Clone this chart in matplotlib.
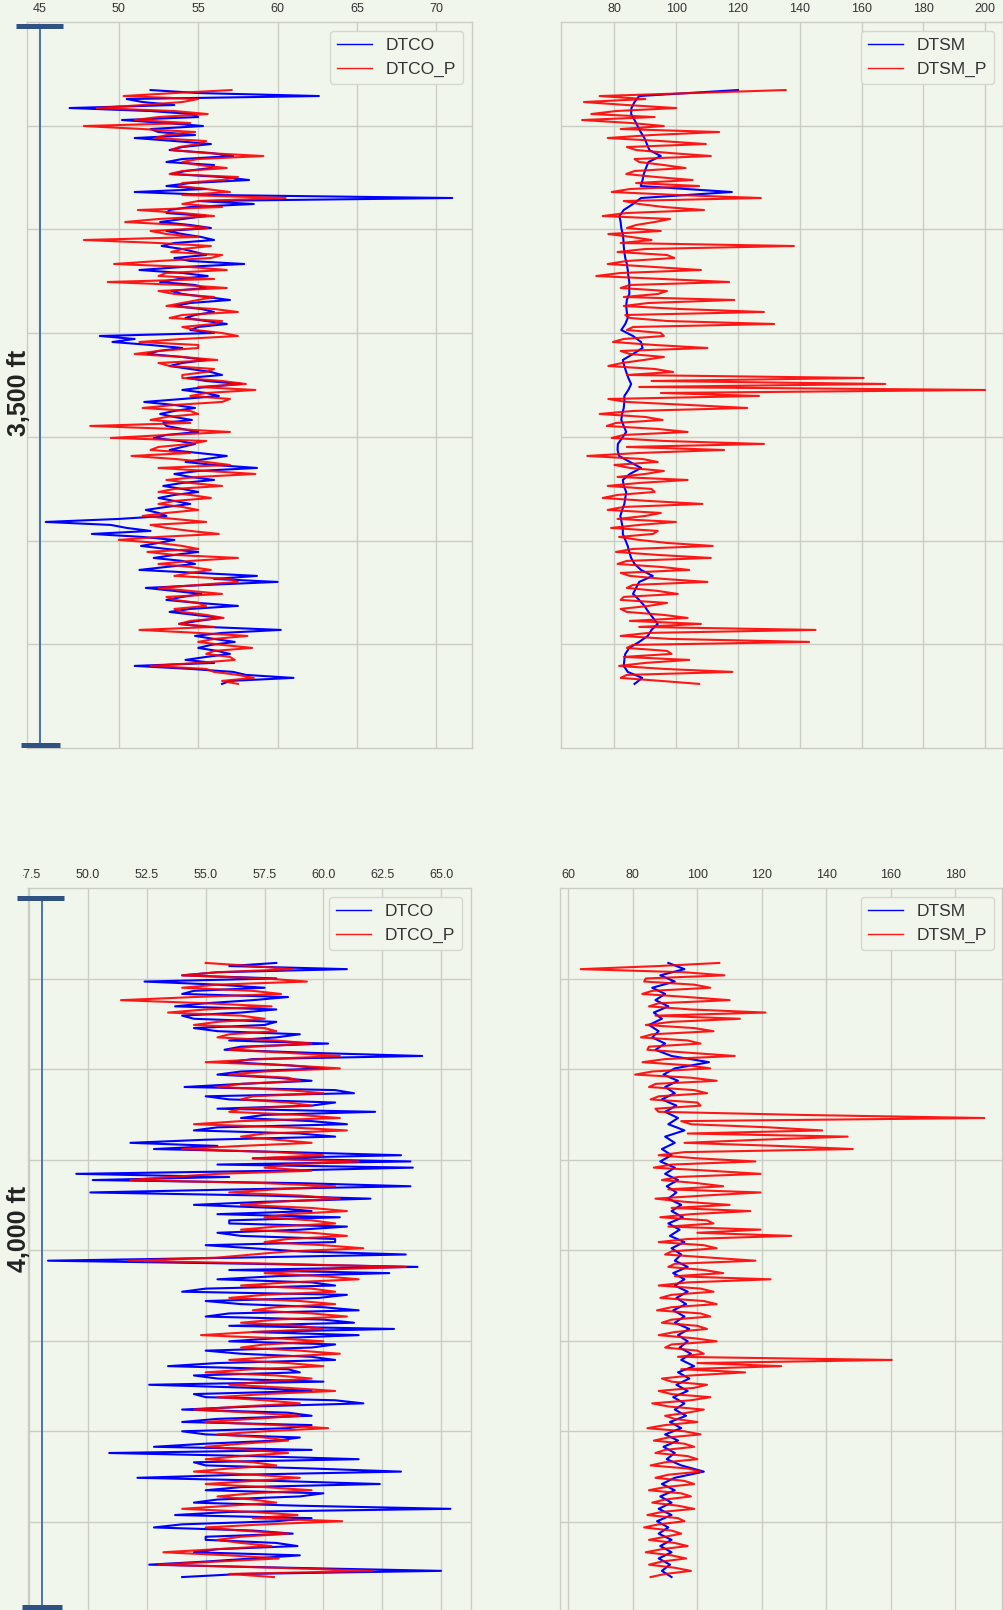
import numpy as np
import matplotlib.pyplot as plt
from matplotlib.lines import Line2D
from matplotlib.patches import Rectangle

BG = '#f1f6ec'
GRID = '#c9cdc4'
TXT = '#333333'

# ---- upper interval, read top -> bottom (first and last sample depth in ft) ----
top_span = (3332.8, 3619.1)
dtco_top = [52.0, 55.0, 62.6, 50.5, 51.5, 53.5, 46.9, 52.0, 54.6, 55.0,
            50.2, 53.0, 55.3, 52.0, 52.5, 54.8, 51.0, 53.5, 55.8, 54.0,
            53.2, 55.8, 57.2, 54.0, 53.0, 56.0, 55.8, 54.2, 53.3, 56.5,
            58.2, 54.5, 53.0, 55.5, 51.0, 56.0, 71.0, 55.0, 58.5, 54.5,
            53.2, 53.0, 55.5, 54.0, 52.6, 54.5, 55.8, 53.0, 54.0, 55.2,
            56.0, 53.5, 52.7, 54.0, 54.8, 55.5, 53.5, 54.5, 57.9, 54.0,
            51.3, 54.0, 55.6, 53.8, 52.6, 54.8, 55.5, 53.3, 54.0, 55.5,
            57.0, 54.5, 53.5, 55.2, 56.0, 54.8, 54.2, 55.5, 56.8, 55.0,
            54.5, 56.0, 48.8, 51.0, 49.6, 52.0, 54.0, 52.5, 51.8, 54.0,
            55.5, 54.0, 53.2, 54.5, 55.8, 56.5, 54.3, 55.5, 57.7, 55.5,
            54.0, 55.5, 56.3, 54.0, 51.6, 53.5, 54.8, 53.5, 52.6, 53.5,
            54.6, 52.8, 53.0, 54.0, 55.0, 53.0, 52.2, 53.8, 54.8, 54.0,
            53.2, 55.0, 56.8, 55.5, 54.2, 56.0, 58.7, 55.0, 53.5, 54.5,
            56.0, 54.0, 52.8, 54.0, 55.0, 53.5, 52.5, 53.5, 54.5, 53.0,
            51.7, 52.5, 53.0, 50.0, 45.4, 49.5, 50.5, 52.0, 48.3, 51.5,
            53.5, 52.5, 51.4, 53.0, 55.0, 53.5, 52.2, 54.0, 54.8, 53.0,
            51.3, 55.0, 58.7, 56.0, 60.0, 55.5, 51.7, 53.5, 55.2, 54.0,
            53.0, 55.0, 57.5, 54.5, 53.2, 54.8, 56.4, 55.0, 53.8, 55.5,
            60.2, 56.5, 54.8, 56.0, 57.3, 55.8, 55.0, 56.2, 57.0, 55.5,
            54.2, 56.0, 51.0, 54.5, 57.2, 58.0, 61.0, 57.0, 56.5]
dtco_p_top = [57.1, 53.5, 50.3, 55.0, 54.0, 51.5, 48.6, 53.5, 55.6, 52.5,
              51.0, 54.5, 47.8, 51.5, 54.8, 53.0, 52.3, 55.5, 55.0, 53.8,
              53.3, 55.5, 59.1, 55.0, 54.0, 55.0, 56.8, 54.0, 53.2, 57.5,
              56.5, 54.0, 53.8, 55.5, 57.0, 54.0, 60.5, 55.0, 54.0, 56.5,
              51.2, 54.0, 56.0, 52.5, 50.4, 54.0, 55.6, 52.0, 53.0, 55.0,
              47.8, 52.5, 55.8, 54.0, 53.3, 56.5, 55.8, 52.5, 49.7, 54.5,
              56.8, 53.0, 52.5, 56.0, 49.3, 54.0, 56.8, 52.5, 53.5, 56.0,
              55.0, 54.0, 53.0, 56.0, 57.5, 54.0, 53.2, 56.5, 56.0, 54.0,
              54.8, 56.5, 57.5, 54.0, 51.3, 55.0, 55.0, 52.5, 51.0, 54.0,
              56.2, 52.5, 53.2, 56.0, 55.5, 54.0, 54.0, 56.5, 58.0, 55.0,
              58.6, 55.5, 54.5, 57.0, 56.5, 53.5, 51.5, 54.5, 55.0, 53.0,
              52.0, 54.5, 48.2, 53.5, 57.0, 53.0, 49.5, 55.5, 54.5, 52.5,
              52.0, 54.5, 50.8, 53.5, 55.5, 57.0, 52.5, 55.5, 58.6, 55.0,
              53.0, 54.5, 56.5, 53.5, 52.5, 54.5, 55.8, 53.5, 52.5, 54.0,
              55.0, 53.0, 51.5, 53.5, 55.5, 52.0, 53.0, 54.5, 56.3, 52.5,
              50.0, 52.5, 54.0, 55.0, 51.8, 53.5, 57.5, 54.5, 52.5, 54.5,
              55.8, 54.5, 53.5, 57.0, 57.5, 55.0, 52.5, 54.5, 56.5, 53.0,
              53.5, 55.0, 55.5, 53.5, 54.0, 55.5, 56.6, 54.5, 53.8, 56.0,
              51.3, 55.0, 58.1, 56.0, 55.0, 56.5, 58.4, 56.0, 55.5, 57.0,
              57.3, 55.0, 52.0, 55.5, 56.0, 57.5, 58.5, 56.5, 57.5]
dtsm_top = [120.0, 88.0, 86.5, 85.5, 85.4, 86.5, 87.5, 88.5, 89.7, 90.5,
            91.3, 95.0, 91.0, 90.2, 89.5, 89.1, 88.5, 118.0, 88.6, 86.0,
            83.0, 81.6, 82.0, 82.2, 82.7, 82.9, 83.0, 83.2, 83.5, 84.0,
            84.3, 84.5, 84.8, 84.8, 84.8, 84.0, 83.8, 84.0, 84.3, 83.5,
            82.2, 86.0, 88.6, 89.1, 86.0, 82.7, 83.2, 83.8, 84.5, 85.4,
            84.5, 83.2, 83.2, 83.0, 82.5, 82.2, 83.0, 83.8, 82.5, 81.1,
            81.0, 81.5, 85.0, 88.6, 85.0, 82.7, 83.0, 83.8, 83.5, 83.2,
            82.5, 81.9, 82.3, 82.7, 82.7, 83.5, 84.3, 84.8, 85.4, 86.5,
            88.6, 92.4, 88.0, 87.0, 86.0, 88.0, 89.7, 91.0, 92.5, 94.0,
            92.0, 90.8, 88.0, 84.8, 83.5, 83.2, 83.0, 84.3, 89.0, 86.5]
dtsm_p_top = [135.4, 105.8, 75.2, 90.0, 70.1, 84.0, 100.0, 80.5, 72.5, 93.0,
              69.5, 85.5, 96.0, 82.0, 113.9, 92.0, 77.8, 95.0, 109.6, 84.0,
              87.0, 98.0, 111.2, 86.5, 88.0, 96.0, 103.0, 86.5, 83.8, 93.5,
              105.3, 87.0, 107.4, 85.0, 79.1, 100.5, 127.4, 83.0, 88.0, 96.0,
              109.0, 84.0, 76.2, 98.0, 93.0, 87.0, 84.0, 95.0, 78.0, 85.5,
              92.0, 82.0, 138.1, 90.0, 81.0, 97.0, 99.4, 84.0, 77.8, 93.0,
              108.0, 82.0, 74.1, 96.0, 117.1, 85.0, 82.0, 97.0, 94.0, 83.0,
              118.8, 91.0, 83.0, 101.0, 128.4, 83.5, 85.0, 97.0, 131.7, 86.0,
              84.0, 95.0, 96.0, 83.0, 79.5, 93.0, 110.1, 82.0, 85.0, 96.0,
              89.5, 82.5, 78.0, 93.0, 99.0, 84.0, 160.7, 92.0, 167.7, 88.0,
              200.0, 95.0, 126.8, 78.0, 84.0, 104.0, 123.0, 86.0, 75.2, 90.0,
              95.6, 80.5, 77.5, 94.0, 103.7, 83.0, 79.1, 96.0, 128.4, 84.0,
              115.5, 88.0, 71.2, 89.0, 94.0, 80.0, 85.0, 96.0, 90.0, 81.0,
              103.7, 88.0, 77.8, 92.0, 93.0, 81.0, 76.2, 91.0, 108.5, 83.0,
              77.8, 95.0, 90.0, 81.0, 99.9, 88.0, 78.9, 94.0, 92.5, 81.5,
              88.0, 97.0, 111.8, 86.0, 80.5, 94.0, 111.2, 84.0, 81.0, 95.0,
              104.2, 82.0, 85.0, 96.0, 110.1, 86.0, 84.0, 94.0, 100.5, 83.0,
              82.0, 97.0, 91.0, 82.0, 84.0, 96.0, 103.7, 85.0, 108.0, 88.0,
              145.1, 91.0, 82.0, 98.0, 143.0, 86.0, 84.0, 97.0, 98.5, 83.0,
              104.2, 90.0, 81.5, 96.0, 118.2, 84.0, 82.0, 95.0, 107.4]

# ---- lower interval ----
bot_span = (3841.4, 4180.7)
dtco_bot = [58.0, 56.0, 61.0, 55.5, 54.0, 58.0, 52.4, 55.5, 57.5, 54.5,
            54.0, 58.5, 57.0, 55.0, 53.7, 58.0, 56.5, 54.0, 54.5, 58.0,
            57.5, 54.5, 55.5, 59.0, 58.0, 56.0, 60.2, 56.5, 55.8, 59.5,
            64.2, 57.0, 56.0, 58.5, 60.0, 56.5, 55.5, 58.0, 59.5, 56.5,
            54.1, 60.5, 61.3, 55.0, 56.0, 60.5, 59.5, 55.5, 62.2, 57.5,
            56.5, 59.5, 61.0, 55.5, 54.5, 59.0, 60.5, 55.0, 51.8, 55.5,
            52.8, 58.5, 63.3, 57.0, 63.7, 55.5, 63.8, 58.0, 49.5, 56.0,
            50.2, 59.0, 63.7, 56.5, 50.1, 57.5, 62.0, 57.5, 54.5, 58.0,
            59.5, 55.5, 60.7, 56.0, 56.0, 61.0, 59.0, 55.5, 56.5, 60.5,
            60.5, 55.0, 57.0, 59.0, 63.5, 56.5, 48.3, 57.0, 64.0, 56.0,
            62.8, 58.0, 55.5, 59.5, 60.5, 55.0, 54.0, 61.0, 59.8, 55.0,
            56.5, 60.0, 61.5, 56.0, 55.0, 60.0, 61.3, 56.0, 63.0, 57.0,
            61.5, 58.0, 56.0, 60.5, 59.5, 55.0, 56.5, 59.5, 60.5, 55.5,
            53.4, 58.5, 59.0, 54.5, 55.5, 60.0, 52.6, 57.0, 59.5, 54.5,
            55.0, 60.5, 61.7, 57.0, 54.0, 58.5, 59.5, 55.5, 54.0, 59.5,
            58.5, 54.0, 55.0, 59.0, 58.0, 55.0, 52.8, 59.5, 50.9, 57.0,
            61.5, 54.5, 55.0, 59.5, 63.3, 56.5, 52.1, 58.0, 62.4, 56.5,
            55.0, 60.0, 59.0, 55.5, 54.5, 59.0, 65.4, 56.0, 53.7, 59.5,
            58.0, 54.0, 52.8, 57.0, 58.7, 55.0, 55.0, 58.0, 58.9, 55.5,
            54.5, 59.0, 57.0, 55.0, 52.6, 58.5, 65.0, 56.5, 54.0]
dtco_p_bot = [55.0, 57.0, 58.7, 55.5, 54.0, 57.5, 59.3, 55.5, 54.0, 57.0,
              58.2, 54.5, 51.4, 55.0, 57.8, 55.0, 53.4, 56.5, 57.5, 55.5,
              54.5, 57.5, 58.0, 56.0, 55.5, 58.0, 59.5, 57.0, 56.0, 58.5,
              60.7, 57.5, 55.0, 58.5, 60.7, 57.5, 56.0, 58.5, 59.0, 56.5,
              55.5, 58.5, 60.0, 57.0, 56.5, 58.5, 59.5, 56.5, 56.0, 59.0,
              60.7, 56.5, 54.5, 58.5, 61.0, 57.5, 56.5, 58.0, 59.5, 56.5,
              54.0, 58.0, 60.0, 57.0, 61.5, 58.5, 57.5, 59.5, 55.5, 53.5,
              51.8, 57.5, 60.5, 58.0, 56.0, 59.0, 60.7, 58.0, 56.5, 59.5,
              61.0, 58.5, 57.5, 59.5, 60.5, 58.0, 56.5, 59.5, 61.0, 58.5,
              57.5, 60.0, 61.7, 58.5, 57.0, 55.5, 51.7, 58.0, 63.5, 59.5,
              57.5, 60.0, 61.5, 58.5, 56.5, 59.5, 60.5, 57.5, 56.0, 59.0,
              60.5, 58.0, 57.0, 59.5, 61.0, 58.0, 56.5, 59.0, 60.0, 57.0,
              54.8, 58.0, 60.0, 57.5, 56.5, 59.0, 60.7, 58.0, 56.0, 58.5,
              60.0, 57.0, 55.0, 58.0, 59.5, 57.5, 56.0, 58.5, 60.5, 57.5,
              55.5, 57.5, 59.0, 56.5, 54.5, 57.0, 59.0, 57.0, 55.0, 58.0,
              60.2, 57.5, 55.5, 57.5, 58.5, 56.5, 55.0, 57.0, 58.5, 56.5,
              55.0, 57.0, 58.0, 56.0, 54.5, 57.0, 59.0, 57.0, 55.0, 57.5,
              59.5, 57.0, 55.5, 57.0, 58.0, 56.0, 54.0, 57.0, 58.9, 57.0,
              60.8, 57.5, 55.0, 56.5, 58.5, 56.5, 55.5, 56.5, 57.8, 55.5,
              53.2, 56.0, 58.1, 55.5, 53.0, 58.0, 62.1, 56.0, 57.9]
dtsm_bot = [91.0, 96.0, 88.5, 93.0, 86.0, 90.0, 87.0, 91.0, 86.5, 89.0,
            85.0, 88.0, 86.0, 90.0, 87.0, 92.0, 103.6, 93.0, 89.5, 94.0,
            90.0, 93.0, 89.0, 93.5, 90.0, 94.0, 91.0, 96.0, 90.0, 93.0,
            89.0, 92.0, 88.5, 93.0, 90.0, 94.0, 90.5, 93.5, 91.0, 95.0,
            92.0, 95.5, 91.0, 94.5, 91.5, 96.0, 92.0, 95.0, 93.0, 97.0,
            92.5, 96.0, 93.0, 97.0, 93.5, 96.5, 92.5, 96.0, 93.0, 97.5,
            94.0, 97.0, 94.5, 98.0, 95.0, 99.0, 94.0, 97.5, 93.5, 97.0,
            92.5, 96.0, 93.0, 96.5, 91.5, 95.0, 90.0, 94.0, 89.5, 93.0,
            90.5, 95.0, 102.0, 93.0, 89.0, 93.0, 88.5, 92.0, 88.0, 92.0,
            87.5, 91.0, 88.0, 92.0, 88.5, 92.0, 88.0, 91.5, 89.0, 92.0]
dtsm_p_bot = [106.8, 88.0, 63.8, 96.0, 108.4, 84.0, 83.5, 99.0, 104.0, 86.0,
              82.9, 97.0, 110.0, 88.0, 85.0, 98.0, 121.1, 87.0, 113.2, 92.0,
              84.0, 99.0, 105.0, 86.0, 82.5, 97.0, 101.0, 85.0, 84.5, 98.0,
              111.6, 90.0, 83.0, 97.0, 104.0, 86.0, 80.7, 98.0, 106.0, 87.0,
              85.0, 99.0, 103.0, 88.0, 85.5, 100.0, 101.0, 87.0, 88.0, 132.3,
              189.0, 95.0, 98.0, 122.0, 138.7, 97.0, 146.6, 119.5, 96.0, 125.0,
              148.2, 96.0, 88.0, 100.0, 118.0, 92.0, 86.5, 104.0, 119.6, 94.0,
              89.0, 100.0, 108.0, 91.0, 119.6, 102.0, 87.0, 96.0, 110.0, 92.0,
              116.4, 98.0, 88.5, 103.0, 105.0, 91.0, 119.6, 100.0, 129.1, 97.0,
              88.0, 102.0, 106.0, 92.0, 90.0, 104.0, 118.0, 93.0, 91.0, 102.0,
              108.0, 93.0, 122.7, 97.0, 88.0, 101.0, 105.0, 92.0, 88.5, 102.0,
              106.0, 92.0, 87.5, 101.0, 104.0, 92.0, 89.0, 100.0, 103.0, 93.0,
              88.0, 99.0, 106.0, 92.0, 90.0, 100.0, 102.0, 94.0, 160.3, 100.0,
              126.0, 95.0, 114.8, 98.0, 89.0, 92.0, 103.0, 99.0, 88.0, 92.0,
              104.0, 98.0, 86.0, 91.0, 102.0, 97.0, 90.0, 93.0, 100.0, 90.0,
              84.5, 96.0, 101.0, 91.0, 86.5, 96.0, 99.0, 90.0, 87.0, 97.0,
              100.0, 90.0, 85.5, 97.0, 101.0, 91.0, 87.0, 96.0, 99.0, 90.0,
              85.0, 95.0, 98.0, 90.0, 86.0, 94.0, 99.0, 89.0, 84.5, 94.0,
              96.0, 88.0, 83.5, 92.0, 95.0, 90.0, 85.0, 93.0, 97.0, 89.0,
              84.0, 92.0, 96.5, 89.0, 85.0, 93.0, 98.0, 90.0, 85.5]

co_ticks_top = [45, 50, 55, 60, 65, 70]
sm_ticks_top = [80, 100, 120, 140, 160, 180, 200]
co_ticks_bot = [47.5, 50.0, 52.5, 55.0, 57.5, 60.0, 62.5, 65.0]
sm_ticks_bot = [60, 80, 100, 120, 140, 160, 180]
depth_labels = ['3,500 ft', '4,000 ft']

W, H = 1004, 1610
plt.rcParams['font.family'] = ['Liberation Sans', 'DejaVu Sans']
fig = plt.figure(figsize=(W / 100, H / 100), dpi=100, facecolor=BG)


def rect_px(left, top, right, bottom):
    return [left / W, 1 - bottom / H, (right - left) / W, (bottom - top) / H]


def track(box, span, true, pred, names, xlim, xticks, ylim, yticks, fmt):
    ax = fig.add_axes(rect_px(*box), facecolor=BG)
    ax.plot(true, np.linspace(*span, len(true)), color='blue', lw=1.5, label=names[0])
    ax.plot(pred, np.linspace(*span, len(pred)), color='red', lw=1.5, alpha=0.9,
            label=names[1])
    ax.set_xlim(xlim)
    ax.set_ylim(ylim)
    ax.set_xticks(xticks)
    ax.set_xticklabels([fmt.format(t) for t in xticks])
    ax.set_yticks(yticks)
    ax.xaxis.tick_top()
    ax.tick_params(length=0, labelsize=9, colors=TXT, pad=5, labelleft=False)
    ax.grid(True, color=GRID, lw=1)
    ax.set_axisbelow(True)
    for s in ax.spines.values():
        s.set_color(GRID)
        s.set_linewidth(1)
    leg = ax.legend(loc='upper right', fontsize=12.5, frameon=True,
                    facecolor=BG, edgecolor='#d3d7cf', framealpha=1)
    for line in leg.get_lines():
        line.set_linewidth(1.0)
    for t in leg.get_texts():
        t.set_color(TXT)
    return ax


def depth_bar(x, top, bottom, cap_top, cap_bot, label, label_y):
    def fx(v):
        return v / W

    def fy(v):
        return 1 - v / H
    fig.add_artist(Line2D([fx(x), fx(x)], [fy(top), fy(bottom)],
                          color='#4a72b5', lw=1.4, zorder=4))
    for (x0, x1), y in ((cap_top, top), (cap_bot, bottom)):
        fig.add_artist(Line2D([fx(x0), fx(x1)], [fy(y), fy(y)],
                              color='#2f5283', lw=3.6, solid_capstyle='butt', zorder=5))
    fig.text(fx(19), fy(label_y), label, rotation=90, ha='center', va='center',
             fontsize=18, fontweight='bold', color='#222222', zorder=5)


track((27, 22, 472, 748), top_span, dtco_top, dtco_p_top, ['DTCO', 'DTCO_P'],
      (44.22, 72.24), co_ticks_top, (3650, 3300), range(3350, 3601, 50), '{:g}')
track((561.5, 22, 1003, 748), top_span, dtsm_top, dtsm_p_top, ['DTSM', 'DTSM_P'],
      (62.85, 205.8), sm_ticks_top, (3650, 3300), range(3350, 3601, 50), '{:g}')
track((28, 888, 470.7, 1612), bot_span, dtco_bot, dtco_p_bot, ['DTCO', 'DTCO_P'],
      (47.45, 66.26), co_ticks_bot, (4200, 3800), range(3850, 4151, 50), '{:.1f}')
track((560, 888, 1002.4, 1612), bot_span, dtsm_bot, dtsm_p_bot, ['DTSM', 'DTSM_P'],
      (57.4, 194.6), sm_ticks_bot, (4200, 3800), range(3850, 4151, 50), '{:g}')

# strip at the far left sits over the first tick label of the lower track
fig.add_artist(Rectangle((0, 1 - 886 / H), 23 / W, 22 / H, transform=fig.transFigure,
                         facecolor=BG, edgecolor='none', zorder=3))

depth_bar(40, 26.5, 745.5, (16, 63), (21, 60), depth_labels[0], 393)
depth_bar(42, 898, 1607, (17, 64), (22, 62), depth_labels[1], 1229)

fig.savefig('out.png', dpi=100, facecolor=BG)
